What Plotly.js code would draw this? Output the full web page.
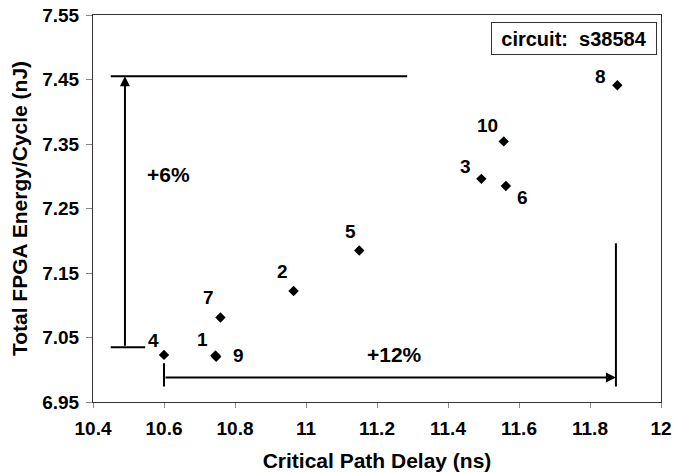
<!DOCTYPE html>
<html>
<head>
<meta charset="utf-8">
<script src="https://cdn.plot.ly/plotly-3.0.1.min.js"></script>
<style>html,body{margin:0;padding:0;background:#fff;}#chart{width:673px;height:472px;}
#chart svg text{font-weight:bold !important;}</style>
</head>
<body>
<div id="chart"></div>
<script>
// Data
const pointLabels = ['4', '1', '9', '7', '2', '5', '3', '6', '10', '8'];
const delayNs = [10.60, 10.745, 10.747, 10.759, 10.965, 11.150, 11.494, 11.563, 11.557, 11.877];
const energyNJ = [7.023, 7.022, 7.020, 7.081, 7.122, 7.185, 7.296, 7.285, 7.354, 7.441];

// Bracket/annotation guides (data units)
const energyBracketY = [7.035, 7.455];
const energyBracketX = [10.45, 10.49, 10.547, 11.285];
const delayBracketX = [10.60, 11.873];
const delayBracketY = [6.988, 6.974, 7.010, 7.196];
const pctLabels = ['+6%', '+12%'];
const pctX = [10.613, 11.248];
const pctY = [7.303, 7.024];
const circuitName = 'circuit:  s38584';

// Label pixel offsets (style)
const labelDx = [-11, -13, 22, -12, -11, -9, -16, 17, -16, -17];
const labelDy = [-14, -16, -1, -20, -20, -19, -12, 12, -16, -9];

const FONT = 'Liberation Sans, Arial, Helvetica, sans-serif';
const black = '#000';

const traces = [
  {
    type: 'scatter', mode: 'markers', x: delayNs, y: energyNJ,
    marker: {symbol: 'diamond', size: 8, color: black},
    hoverinfo: 'x+y', showlegend: false
  },
  {type: 'scatter', mode: 'lines', x: [energyBracketX[0], energyBracketX[3]], y: [energyBracketY[1], energyBracketY[1]],
   line: {color: black, width: 2}, showlegend: false, hoverinfo: 'skip'},
  {type: 'scatter', mode: 'lines', x: [energyBracketX[0], energyBracketX[2]], y: [energyBracketY[0], energyBracketY[0]],
   line: {color: black, width: 2}, showlegend: false, hoverinfo: 'skip'},
  {type: 'scatter', mode: 'lines', x: [delayBracketX[0], delayBracketX[0]], y: [delayBracketY[1], delayBracketY[2]],
   line: {color: black, width: 2}, showlegend: false, hoverinfo: 'skip'},
  {type: 'scatter', mode: 'lines', x: [delayBracketX[1], delayBracketX[1]], y: [delayBracketY[1], delayBracketY[3]],
   line: {color: black, width: 2}, showlegend: false, hoverinfo: 'skip'}
];

const annotations = [];
pointLabels.forEach((t, i) => {
  annotations.push({
    x: delayNs[i], y: energyNJ[i], xref: 'x', yref: 'y', text: t, showarrow: false,
    xanchor: 'center', yanchor: 'middle', xshift: labelDx[i], yshift: -labelDy[i],
    font: {family: FONT, size: 19, color: black, weight: 'bold'}
  });
});
annotations.push({
  x: energyBracketX[1], y: energyBracketY[1], ax: energyBracketX[1], ay: energyBracketY[0],
  xref: 'x', yref: 'y', axref: 'x', ayref: 'y', text: '', showarrow: true,
  arrowhead: 2, arrowsize: 1, arrowwidth: 2, arrowcolor: black, standoff: 0
});
annotations.push({
  x: delayBracketX[1], y: delayBracketY[0], ax: delayBracketX[0], ay: delayBracketY[0],
  xref: 'x', yref: 'y', axref: 'x', ayref: 'y', text: '', showarrow: true,
  arrowhead: 2, arrowsize: 1, arrowwidth: 2, arrowcolor: black, standoff: 0
});
pctLabels.forEach((t, i) => {
  annotations.push({
    x: pctX[i], y: pctY[i], xref: 'x', yref: 'y', text: t, showarrow: false,
    xanchor: 'center', yanchor: 'middle',
    font: {family: FONT, size: 21, color: black, weight: 'bold'}
  });
});
annotations.push({
  x: 0.846, y: 0.938, xref: 'paper', yref: 'paper', text: circuitName, showarrow: false,
  xanchor: 'center', yanchor: 'middle', width: 162, height: 29, borderpad: 1,
  bordercolor: '#333', borderwidth: 1, bgcolor: '#fff',
  font: {family: FONT, size: 20, color: black, weight: 'bold'}
});

const layout = {
  width: 673, height: 472,
  margin: {l: 93, r: 12, t: 15, b: 70},
  paper_bgcolor: '#fff', plot_bgcolor: '#fff',
  font: {family: FONT, color: black},
  showlegend: false,
  xaxis: {
    range: [10.4, 12], tick0: 10.4, dtick: 0.2, showgrid: false, zeroline: false,
    showline: true, linecolor: '#333', linewidth: 1, mirror: true,
    ticks: 'outside', ticklen: 5, tickcolor: '#888', ticklabelstandoff: 4,
    tickfont: {family: FONT, size: 19, color: black, weight: 'bold'},
    title: {text: 'Critical Path Delay (ns)', font: {family: FONT, size: 21, color: black, weight: 'bold'}, standoff: 16}
  },
  yaxis: {
    range: [6.95, 7.55], tick0: 6.95, dtick: 0.1, tickformat: '.2f', showgrid: false, zeroline: false,
    showline: true, linecolor: '#333', linewidth: 1, mirror: true,
    ticks: 'outside', ticklen: 6, tickcolor: '#888', ticklabelstandoff: 3,
    tickfont: {family: FONT, size: 19, color: black, weight: 'bold'},
    title: {text: 'Total FPGA Energy/Cycle (nJ)', font: {family: FONT, size: 21, color: black, weight: 'bold'}, standoff: 8}
  },
  annotations: annotations
};

Plotly.newPlot('chart', traces, layout, {displayModeBar: false, staticPlot: true});
</script>
</body>
</html>
